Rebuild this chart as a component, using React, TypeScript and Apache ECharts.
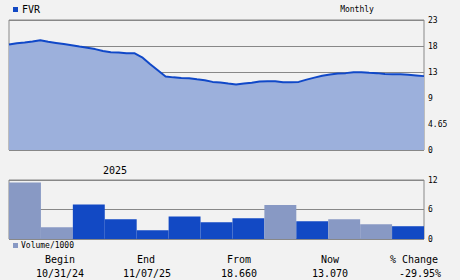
import React, { useEffect, useRef } from "react";
import * as echarts from "echarts";

const priceValues = [
  18.66, 18.9, 19.0, 19.2, 19.43, 19.15, 18.95, 18.75, 18.55, 18.3,
  18.1, 17.85, 17.5, 17.3, 17.25, 17.13, 17.13, 16.4, 15.2, 14.1,
  13.0, 12.85, 12.75, 12.7, 12.5, 12.35, 12.05, 11.95, 11.75, 11.6,
  11.75, 11.9, 12.1, 12.18, 12.15, 12.0, 12.0, 12.05, 12.45, 12.8,
  13.15, 13.35, 13.55, 13.6, 13.75, 13.77, 13.65, 13.6, 13.45, 13.4,
  13.4, 13.3, 13.2, 13.07,
];
const priceTickLabels = ["0", "4.65", "9", "13", "18", "23"];

const volumeMonths = [
  "Nov", "Dec", "Jan", "Feb", "Mar", "Apr", "May", "Jun", "Jul", "Aug", "Sep", "Oct", "Nov",
];
const volumeValues = [11.5, 2.4, 7.0, 4.0, 1.8, 4.6, 3.4, 4.2, 6.9, 3.6, 4.0, 3.0, 2.6];
const volumeUp = [false, false, true, true, true, true, true, true, false, true, false, false, true];
const volumeTickLabels = ["0", "6", "12"];

const statLabels = ["Begin", "End", "From", "Now", "% Change"];
const statValues = ["10/31/24", "11/07/25", "18.660", "13.070", "-29.95%"];

const MONO = "DejaVu Sans Mono";
const LIGHT = "#8899c4";
const DARK = "#1249c4";

export default function App() {
  const ref = useRef<HTMLDivElement>(null);
  useEffect(() => {
    if (!ref.current) return;
    const chart = echarts.init(ref.current, null, { renderer: "svg" });
    const labelX = [60, 146, 239, 330, 414];
    const valueX = [60, 147, 239, 330, 420];
    const graphics: any[] = [
      { type: "rect", shape: { x: 13, y: 7, width: 5, height: 5 }, style: { fill: DARK } },
      { type: "text", x: 22, y: 9.5, style: { text: "FVR", font: `10px '${MONO}'`, fill: "#000", textVerticalAlign: "middle" } },
      { type: "text", x: 357, y: 9, style: { text: "Monthly", font: `8px '${MONO}'`, fill: "#000", textAlign: "center", textVerticalAlign: "middle" } },
      { type: "text", x: 115, y: 170, style: { text: "2025", font: `10px '${MONO}'`, fill: "#000", textAlign: "center", textVerticalAlign: "middle" } },
      { type: "rect", shape: { x: 13, y: 243, width: 5, height: 5 }, style: { fill: LIGHT } },
      { type: "text", x: 21, y: 245.5, style: { text: "Volume/1000", font: `8px '${MONO}'`, fill: "#000", textVerticalAlign: "middle" } },
    ];
    statLabels.forEach((s, i) => {
      graphics.push({ type: "text", x: labelX[i], y: 259, style: { text: s, font: `10px '${MONO}'`, fill: "#000", textAlign: "center", textVerticalAlign: "middle" } });
      graphics.push({ type: "text", x: valueX[i], y: 273, style: { text: statValues[i], font: `10px '${MONO}'`, fill: "#000", textAlign: "center", textVerticalAlign: "middle" } });
    });
    chart.setOption({
      animation: false,
      backgroundColor: "#f2f2f2",
      graphic: graphics,
      grid: [
        { left: 9, right: 36, top: 20, height: 130, show: true, borderColor: "#888", borderWidth: 1, backgroundColor: "transparent" },
        { left: 9, right: 36, top: 180, height: 59, show: true, borderColor: "#888", borderWidth: 1, backgroundColor: "transparent" },
      ],
      xAxis: [
        { type: "category", gridIndex: 0, data: priceValues.map((_, i) => String(i)), boundaryGap: false, show: false },
        { type: "category", gridIndex: 1, data: volumeMonths, boundaryGap: true, show: false },
      ],
      yAxis: [
        {
          type: "value", gridIndex: 0, position: "right", min: 0, max: 23, interval: 4.6,
          axisLine: { show: false }, axisTick: { show: false },
          axisLabel: { margin: 4, color: "#000", fontFamily: MONO, fontSize: 8, formatter: (_v: number, i: number) => priceTickLabels[i] ?? "" },
          splitLine: { show: true, lineStyle: { color: "#888", width: 1 } },
        },
        {
          type: "value", gridIndex: 1, position: "right", min: 0, max: 12, interval: 6,
          axisLine: { show: false }, axisTick: { show: false },
          axisLabel: { margin: 4, color: "#000", fontFamily: MONO, fontSize: 8, formatter: (_v: number, i: number) => volumeTickLabels[i] ?? "" },
          splitLine: { show: true, lineStyle: { color: "#888", width: 1 } },
        },
      ],
      series: [
        {
          type: "line", xAxisIndex: 0, yAxisIndex: 0, data: priceValues, symbol: "none",
          lineStyle: { color: "#1048c8", width: 2 },
          areaStyle: { color: "#9cb0dc", opacity: 1 },
        },
        {
          type: "bar", xAxisIndex: 1, yAxisIndex: 1, barCategoryGap: "0%",
          data: volumeValues.map((v, i) => ({ value: v, itemStyle: { color: volumeUp[i] ? DARK : LIGHT } })),
        },
      ],
    });
    return () => chart.dispose();
  }, []);
  return <div ref={ref} style={{ width: 460, height: 280, position: "absolute", left: 0, top: 0 }} />;
}
